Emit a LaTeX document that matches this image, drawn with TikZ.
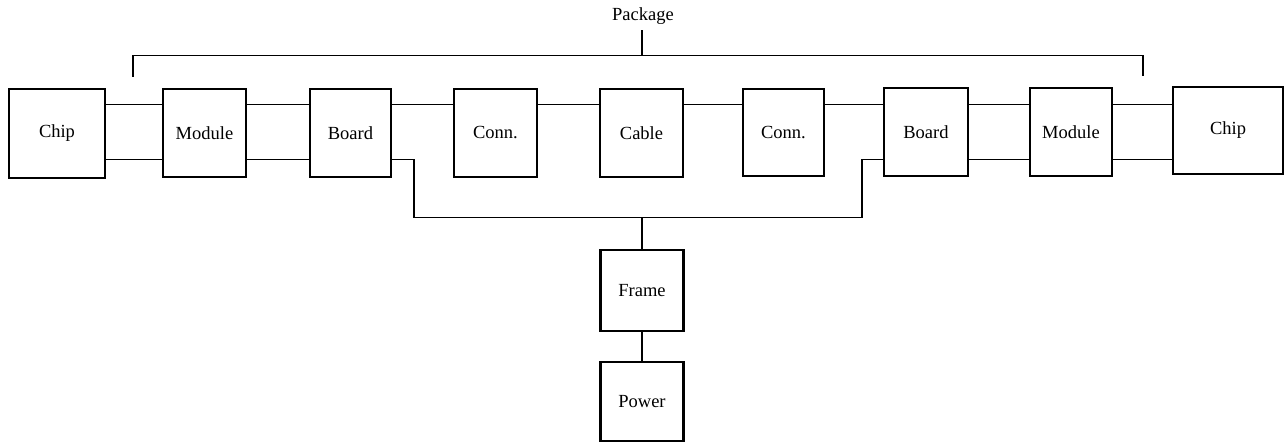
\documentclass[tikz,border=0pt]{standalone}
\usepackage{fontspec}
\setmainfont{Liberation Serif}
\begin{document}
\begin{tikzpicture}[x=1pt,y=-1pt,
  blk/.style={draw, line width=2.4pt, rectangle, inner sep=0pt, font=\fontsize{18.5}{21}\selectfont},
  wire/.style={line width=1.3pt}]
\useasboundingbox (0,0) rectangle (1286,443);
\node[blk, minimum width=96pt, minimum height=89pt] (chipL) at (57,133.5) {Chip};
\node[blk, minimum width=83pt, minimum height=88pt] (modL) at (204.5,133) {Module};
\node[blk, minimum width=81pt, minimum height=88pt] (brdL) at (350.5,133) {Board};
\node[blk, minimum width=83pt, minimum height=88pt] (connL) at (495.5,133) {Conn.};
\node[blk, minimum width=83pt, minimum height=88pt] (cable) at (641.5,133) {Cable};
\node[blk, minimum width=81pt, minimum height=87pt] (connR) at (783.5,132.5) {Conn.};
\node[blk, minimum width=84pt, minimum height=88pt] (brdR) at (926,132) {Board};
\node[blk, minimum width=82pt, minimum height=88pt] (modR) at (1071,132) {Module};
\node[blk, minimum width=110pt, minimum height=87pt] (chipR) at (1228,130.5) {Chip};
\node[blk, minimum width=83pt, minimum height=81pt] (frame) at (642,290.5) {Frame};
\node[blk, minimum width=83pt, minimum height=79pt] (power) at (642,401.5) {Power};
\node[font=\fontsize{18.5}{21}\selectfont, inner sep=1pt] (pkg) at (643,16) {Package};
% levels
\coordinate (yt) at (0,104.5);
\coordinate (yb) at (0,159.5);
% connectors
\draw[wire] (chipL.east |- yt) -- (modL.west |- yt);
\draw[wire] (chipL.east |- yb) -- (modL.west |- yb);
\draw[wire] (modL.east |- yt) -- (brdL.west |- yt);
\draw[wire] (modL.east |- yb) -- (brdL.west |- yb);
\draw[wire] (brdL.east |- yt) -- (connL.west |- yt);
\draw[wire] (connL.east |- yt) -- (cable.west |- yt);
\draw[wire] (cable.east |- yt) -- (connR.west |- yt);
\draw[wire] (connR.east |- yt) -- (brdR.west |- yt);
\draw[wire] (brdR.east |- yt) -- (modR.west |- yt);
\draw[wire] (brdR.east |- yb) -- (modR.west |- yb);
\draw[wire] (modR.east |- yt) -- (chipR.west |- yt);
\draw[wire] (modR.east |- yb) -- (chipR.west |- yb);
% board to frame bus
\coordinate (bl) at (414,217.5);
\coordinate (br) at (862,217.5);
\coordinate (bm) at (642,217.5);
\draw[wire] (brdL.east |- yb) -| (bl) -- (br) |- (brdR.west |- yb);
\draw[wire] (bm) -- (frame.north);
\draw[wire] (frame.south) -- (power.north);
% package bracket
\coordinate (pl) at (133,77);
\coordinate (pr) at (1143,76);
\coordinate (ptop) at (642,55.5);
\coordinate (ptick) at (642,30);
\draw[wire] (pl) |- (ptop) -| (pr);
\draw[wire] (ptop) -- (ptick);
\end{tikzpicture}
\end{document}
